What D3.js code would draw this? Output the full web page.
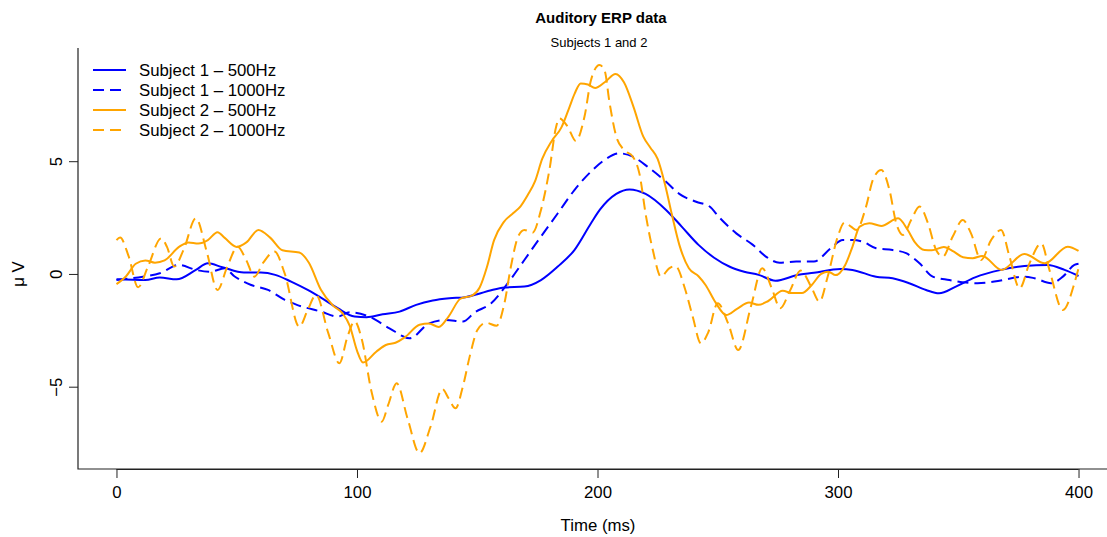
<!DOCTYPE html>
<html>
<head>
<meta charset="utf-8">
<script src="https://cdn.jsdelivr.net/npm/d3@7"></script>
<style>
  html, body { margin: 0; padding: 0; background: #fff; }
  svg { display: block; font-family: "Liberation Sans", Arial, Helvetica, sans-serif; }
</style>
</head>
<body>
<svg id="chart" width="1107" height="537"></svg>
<script>
// ---------------- DATA ----------------
const seriesNames = ["Subject 1 – 500Hz", "Subject 1 – 1000Hz", "Subject 2 – 500Hz", "Subject 2 – 1000Hz"];
const xTicks = [0, 100, 200, 300, 400];
const yTicks = [-5, 0, 5];

// Subject 1 – 500Hz
const s1_500_t = [0, 12, 18, 25, 33, 38, 44, 53, 60, 66, 72.6, 79.5, 86.5, 92, 99, 104, 110.7, 117.7, 124.6, 131.5, 138.4, 145, 150, 155.8, 161.3, 169.6, 176.5, 183.5, 190.4, 197.3, 201, 207.8, 213.3, 220, 228.5, 235, 242, 248.5, 255, 261, 267, 274, 283, 290, 301, 306, 315.8, 322.7, 329.6, 336.6, 342, 349, 357, 367.8, 377.5, 387.2, 394.2, 400];
const s1_500_v = [-0.24, -0.27, -0.16, -0.24, 0.18, 0.47, 0.3, 0.06, 0.06, -0.04, -0.34, -0.71, -1.15, -1.52, -1.89, -1.92, -1.79, -1.67, -1.37, -1.18, -1.08, -1.03, -0.9, -0.72, -0.6, -0.56, -0.27, 0.33, 1.06, 2.25, 2.85, 3.55, 3.75, 3.55, 2.84, 2.1, 1.29, 0.72, 0.32, 0.1, -0.04, -0.3, -0.05, 0.05, 0.22, 0.18, -0.12, -0.19, -0.41, -0.71, -0.86, -0.56, -0.15, 0.18, 0.35, 0.4, 0.18, -0.09];

// Subject 1 – 1000Hz
const s1_1000_t = [0, 11, 18, 26, 33, 39, 45, 49, 56, 63, 70, 75, 85, 92, 97, 105, 113.5, 122, 130, 137, 144, 149, 155.8, 162.7, 169.6, 176.5, 183.5, 190.4, 197.3, 203, 209, 214.7, 221.6, 228.5, 234, 241, 246.5, 250.7, 257.7, 264.6, 270, 275.7, 282.6, 290, 297, 302, 306, 310.3, 315.8, 322.7, 328.3, 333.9, 339.4, 346.3, 353.2, 358, 365, 377.5, 381.7, 388.6, 393.5, 398.3, 400];
const s1_1000_v = [-0.27, -0.12, 0.03, 0.4, 0.18, 0.1, 0.25, -0.1, -0.49, -0.71, -1.15, -1.37, -1.67, -1.89, -1.7, -1.89, -2.41, -2.85, -2.19, -2.04, -2.11, -1.7, -1.3, -0.41, 0.62, 1.66, 2.69, 3.72, 4.54, 5.06, 5.35, 5.2, 4.69, 4.09, 3.55, 3.2, 3.0, 2.5, 1.8, 1.29, 0.77, 0.5, 0.55, 0.55, 1.14, 1.5, 1.5, 1.43, 1.14, 1.06, 0.92, 0.47, -0.12, -0.27, -0.38, -0.41, -0.34, -0.12, -0.19, -0.41, -0.12, 0.4, 0.45];

// Subject 2 – 500Hz
const s2_500_t = [0, 4, 8, 12, 16, 20, 26, 30, 34, 38, 42, 45, 50, 54, 59, 64, 69, 76, 80, 85, 90, 94, 97, 100, 102.5, 108, 112, 116, 120, 126, 130, 134, 138, 143, 148, 151, 154, 157, 161, 165, 168, 171, 174, 177, 181, 185, 188, 190.5, 193, 196, 199, 203, 207.5, 211, 215, 219, 222, 225, 228, 231, 234, 238, 242, 245, 249, 253.5, 258, 263, 267, 271, 277, 281, 285, 289, 293, 296, 299, 303, 306, 309, 313, 318, 325, 329, 332, 336, 339, 344, 348, 352, 356, 360, 368, 377.5, 386, 395.5, 400];
const s2_500_v = [-0.45, -0.1, 0.45, 0.6, 0.5, 0.6, 1.2, 1.4, 1.35, 1.5, 1.85, 1.6, 1.2, 1.4, 1.95, 1.6, 1.05, 0.95, 0.5, -0.7, -1.4, -1.75, -2.3, -3.4, -3.93, -3.45, -3.15, -3.05, -2.8, -2.25, -2.2, -2.35, -1.9, -1.1, -0.95, -0.6, 0.3, 1.5, 2.3, 2.7, 3.0, 3.5, 4.1, 5.1, 5.9, 6.5, 7.3, 8.0, 8.45, 8.4, 8.25, 8.5, 8.87, 8.5, 7.4, 6.1, 5.6, 5.1, 4.0, 2.6, 1.3, 0.25, -0.1, -0.5, -1.25, -1.82, -1.55, -1.27, -1.37, -1.2, -0.75, -0.85, -0.85, -0.5, 0.0, 0.1, -0.05, 0.4, 1.2, 2.1, 2.25, 2.13, 2.47, 1.95, 1.4, 1.06, 1.05, 1.2, 1.0, 0.74, 0.7, 0.8, 0.18, 0.89, 0.47, 1.21, 1.02];

// Subject 2 – 1000Hz
const s2_1000_t = [0, 1.5, 5, 9, 13, 18.6, 21, 24, 28, 33, 37.5, 42, 46, 50.4, 54, 57.4, 61, 65.7, 70, 76, 79.5, 83, 88, 92.7, 96, 99, 102, 106, 110.3, 113, 116.5, 121, 126, 130.5, 135.5, 138, 141, 144, 147, 150, 153.7, 158, 161.3, 164, 167, 169.6, 173, 176.5, 180, 182.8, 184.2, 187.6, 191, 194.6, 197.3, 200.8, 203, 205, 207.8, 211, 214.7, 217.4, 220.2, 223, 226.4, 229.8, 232.4, 236.5, 239.6, 243, 246, 250, 254.3, 258.5, 263.9, 268.5, 272.5, 276, 280, 284.5, 288.8, 292.3, 295.7, 299.9, 302.7, 305.4, 307.6, 311.7, 314.5, 318, 321.4, 324.2, 327, 330.4, 333.9, 337.4, 340.8, 343.6, 347.7, 351.9, 355.3, 359.5, 363.7, 367.8, 371.3, 375.5, 379.6, 384.5, 387.9, 393.5, 398.3, 400];
const s2_1000_v = [1.5, 1.62, 0.8, -0.59, 0.3, 1.58, 1.2, 0.33, 1.1, 2.47, 1.0, -0.71, 0.3, 1.21, 0.6, -0.12, 0.5, 0.99, 0.0, -2.34, -1.6, -0.93, -2.6, -3.96, -2.8, -2.1, -2.9, -5.2, -6.55, -5.8, -4.85, -6.4, -7.95, -6.8, -5.1, -5.5, -5.96, -5.0, -3.6, -2.5, -2.16, -2.3, -1.3, 0.33, 1.66, 1.95, 1.83, 2.84, 4.61, 6.53, 6.9, 6.53, 5.9, 6.98, 8.6, 9.27, 9.0, 7.6, 6.1, 5.5, 5.2, 4.46, 2.54, 1.06, -0.12, 0.25, 0.35, -0.7, -1.9, -3.08, -2.6, -1.3, -2.19, -3.37, -1.4, 0.25, -0.65, -1.52, -0.75, 0.15, -0.56, -1.23, -0.12, 1.66, 2.28, 2.1, 1.95, 3.0, 4.17, 4.61, 3.72, 2.25, 1.73, 2.39, 2.99, 2.25, 1.06, 0.77, 1.66, 2.39, 1.8, 0.62, 1.51, 1.95, 0.77, -0.64, 0.47, 1.36, 0.18, -1.6, -0.41, 0.25];

const seriesColors = ["#0000FF", "#0000FF", "#FFA500", "#FFA500"];
const seriesDash = [null, "11,6", null, "11,6"];

// ---------------- CHART ----------------
const svg = d3.select("#chart");
const W = 1107, H = 537;
const plotLeft = 78, plotRight = 1117, plotTop = 48, plotBottom = 469;

const x = d3.scaleLinear().domain([-16, 416]).range([plotLeft, plotRight]);
const y = d3.scaleLinear().domain([-8.65, 10.02]).range([plotBottom, plotTop]);

const series = [
  { t: s1_500_t, v: s1_500_v },
  { t: s1_1000_t, v: s1_1000_v },
  { t: s2_500_t, v: s2_500_v },
  { t: s2_1000_t, v: s2_1000_v }
];

const line = d3.line()
  .x(d => x(d[0]))
  .y(d => y(d[1]))
  .curve(d3.curveMonotoneX);

series.forEach((s, i) => {
  const pts = s.t.map((t, k) => [t, s.v[k]]);
  svg.append("path")
    .attr("d", line(pts))
    .attr("fill", "none")
    .attr("stroke", seriesColors[i])
    .attr("stroke-width", 2)
    .attr("stroke-dasharray", seriesDash[i])
    .attr("stroke-linejoin", "round");
});

// L-shaped box
svg.append("path")
  .attr("d", `M${plotLeft},${plotTop}V${plotBottom}H${W + 5}`)
  .attr("fill", "none")
  .attr("stroke", "#222")
  .attr("stroke-width", 1.2);

// x axis
const xAxis = d3.axisBottom(x).tickValues(xTicks).tickSize(9).tickPadding(8).tickFormat(d3.format("d"));
const gx = svg.append("g").attr("transform", `translate(0,${plotBottom})`).call(xAxis);
gx.select(".domain").attr("d", `M${x(0)},0.5H${x(400)}`).attr("stroke", "#222");
gx.selectAll(".tick line").attr("stroke", "#222");
gx.selectAll("text").attr("font-size", 16.8).attr("fill", "#000").attr("font-family", "Liberation Sans, Arial, sans-serif");

// y axis
const yAxis = d3.axisLeft(y).tickValues(yTicks).tickSize(9).tickFormat(d => d < 0 ? "\u2212" + Math.abs(d) : String(d));
const gy = svg.append("g").attr("transform", `translate(${plotLeft},0)`).call(yAxis);
gy.select(".domain").remove();
gy.selectAll(".tick line").attr("stroke", "#222");
gy.selectAll(".tick text")
  .attr("font-size", 16.8)
  .attr("fill", "#000")
  .attr("font-family", "Liberation Sans, Arial, sans-serif")
  .attr("x", null).attr("dy", null)
  .attr("text-anchor", "middle")
  .attr("transform", "translate(-16,0) rotate(-90)")
  .attr("y", 0);

// titles
svg.append("text").attr("x", 601).attr("y", 23).attr("text-anchor", "middle")
  .attr("font-size", 15).attr("font-weight", "bold").text("Auditory ERP data");
svg.append("text").attr("x", 599).attr("y", 47).attr("text-anchor", "middle")
  .attr("font-size", 13).text("Subjects 1 and 2");
svg.append("text").attr("x", 598).attr("y", 531).attr("text-anchor", "middle")
  .attr("font-size", 16.8).text("Time (ms)");
svg.append("text").attr("transform", "translate(24,274) rotate(-90)").attr("text-anchor", "middle")
  .attr("font-size", 16.8).text("\u03bc V");

// legend
const lg = svg.append("g");
seriesNames.forEach((name, i) => {
  const yy = 70 + i * 20;
  lg.append("line").attr("x1", 93).attr("x2", 126).attr("y1", yy).attr("y2", yy)
    .attr("stroke", seriesColors[i]).attr("stroke-width", 2).attr("stroke-dasharray", seriesDash[i]);
  lg.append("text").attr("x", 139).attr("y", yy + 6).attr("font-size", 16.8).text(name);
});
</script>
</body>
</html>
